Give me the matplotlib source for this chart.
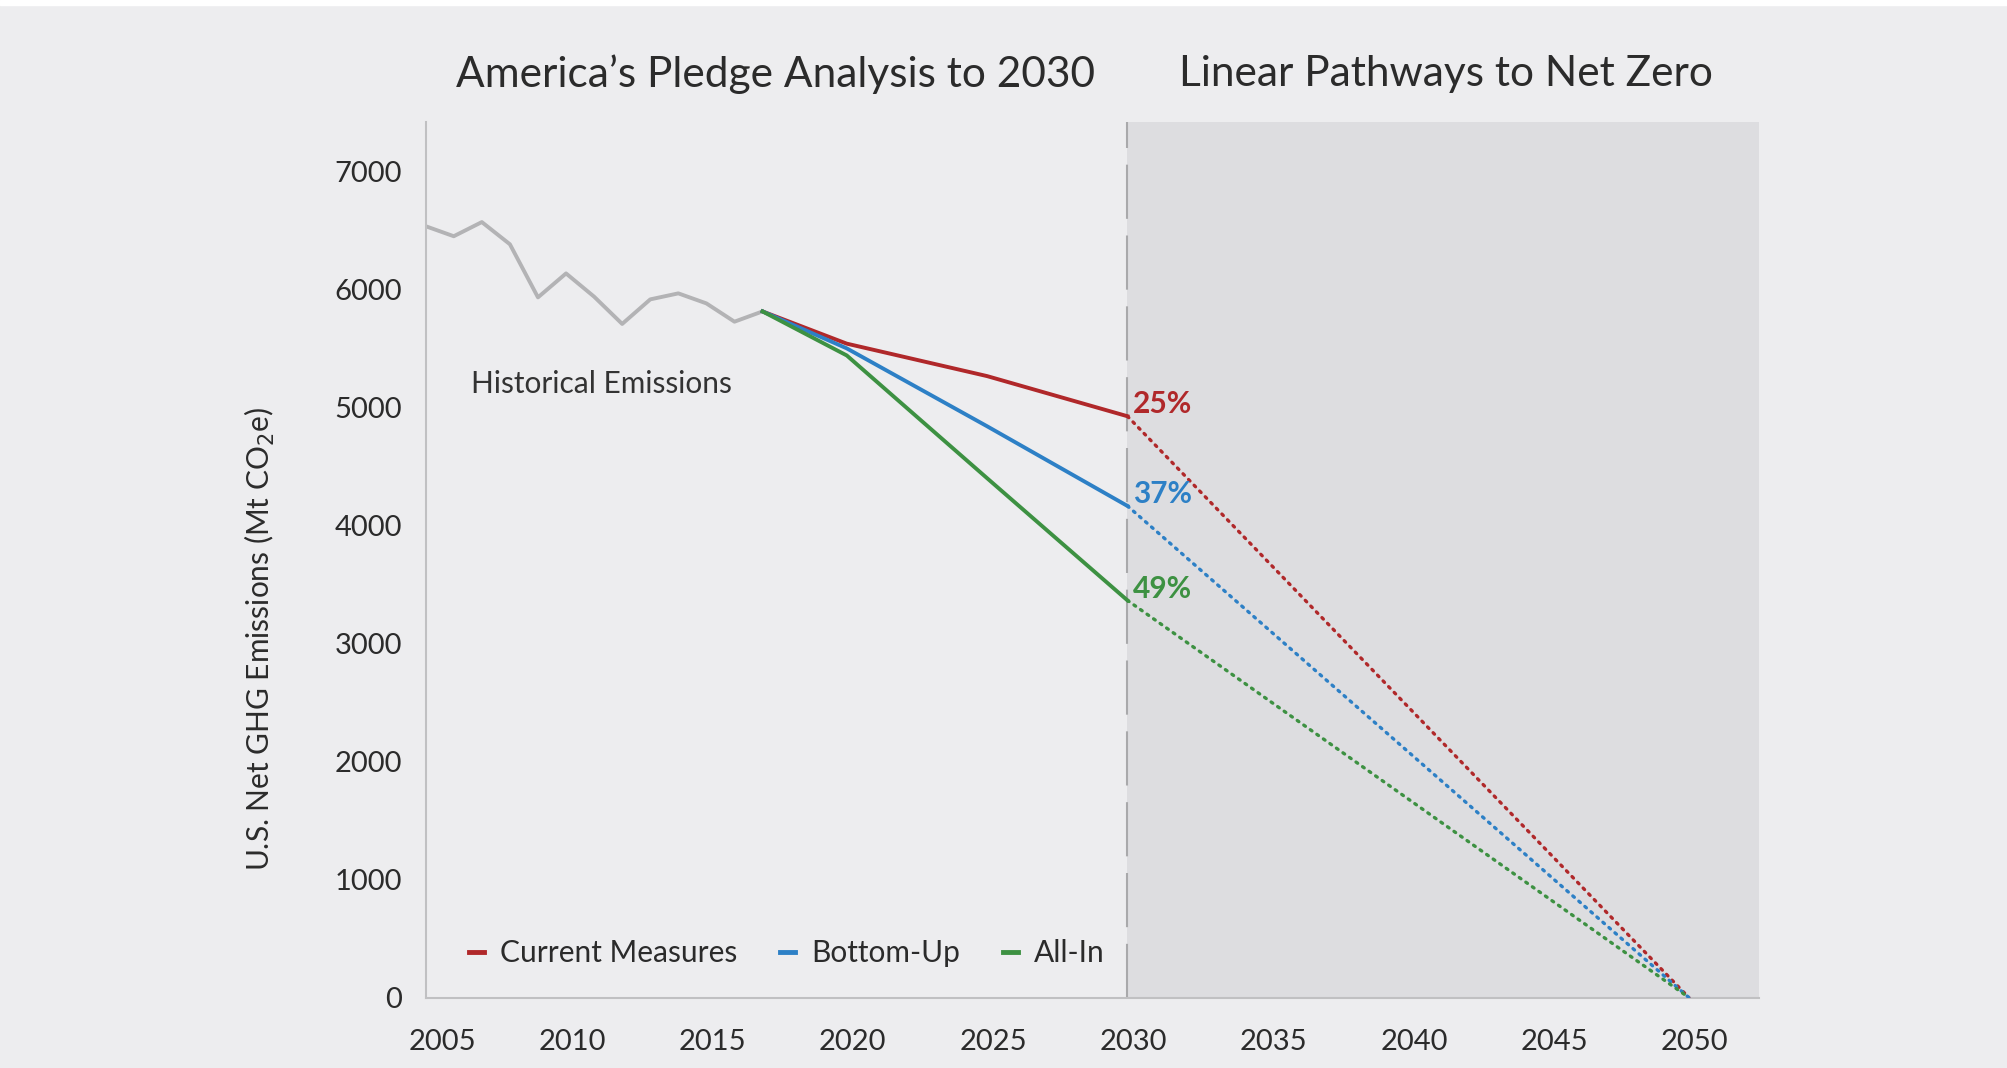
import numpy as np
import matplotlib.pyplot as plt
import matplotlib.transforms as mtrans
from matplotlib.patches import Rectangle

plt.rcParams['font.family'] = ['Lato', 'DejaVu Sans']

# historical net emissions (Mt CO2e)
hist_years = [2005, 2006, 2007, 2008, 2009, 2010, 2011, 2012, 2013, 2014, 2015, 2016, 2017]
hist_vals = [6535, 6450, 6570, 6382, 5932, 6135, 5938, 5707, 5915, 5966, 5881, 5726, 5813]

# scenarios to 2030
proj_years = [2017, 2020, 2025, 2030]
current = [5813, 5540, 5265, 4925]
bottom_up = [5813, 5500, 4840, 4165]
all_in = [5813, 5440, 4400, 3365]

# linear pathways to net zero
path_years = [2030, 2050]
scen_labels = ["Current Measures", "Bottom-Up", "All-In"]
scen_pct = ["25%", "37%", "49%"]
scen_colors = ["#b0282a", "#2d80c6", "#3d9142"]

bg = "#ededef"
fig = plt.figure(figsize=(20.08, 10.68), dpi=100, facecolor=bg)
fig.patches.append(Rectangle((0, 1 - 5 / 1068), 1, 5 / 1068, transform=fig.transFigure,
                             color="white", zorder=0))
ax = fig.add_axes([0.212, 0.066, 0.664, 0.82])
ax.set_facecolor(bg)

ax.axvspan(2030, 2052.5, color="#dddde0", zorder=0, lw=0)
ax.axvline(2030, color="#a9a9ab", lw=1.5, dashes=(26, 8), zorder=1)

ax.plot(hist_years, hist_vals, color="#b3b3b5", lw=2.8, zorder=2)

series = [current, bottom_up, all_in]
for vals, lab, pct, col in zip(series, scen_labels, scen_pct, scen_colors):
    ax.plot(proj_years, vals, color=col, lw=2.8, label=lab, zorder=3)
    ax.plot(path_years, [vals[-1], 0], color=col, lw=2.4, ls=(0, (0.6, 1.8)),
            dash_capstyle="round", zorder=3)
    ax.text(2030.2, vals[-1] + 100, pct, color=col, fontsize=21.5, fontweight="bold",
            ha="left", va="center", zorder=4)

ax.text(2006.6, 5200, "Historical Emissions", fontsize=21.5, color="#333333",
        ha="left", va="center")

ax.set_xlim(2005, 2052.5)
ax.set_ylim(0, 7420)
ax.set_xticks(range(2005, 2051, 5))
ax.set_yticks(range(0, 7001, 1000))
ax.tick_params(length=0, labelsize=21, colors="#2b2b2b")
ax.tick_params(axis="x", pad=23)
ax.tick_params(axis="y", pad=17)
for i, lbl in enumerate(ax.get_xticklabels()):
    dx = 17 if i == 0 else 6
    lbl.set_transform(lbl.get_transform() + mtrans.ScaledTranslation(dx / 100, 0, fig.dpi_scale_trans))
for s in ["top", "right"]:
    ax.spines[s].set_visible(False)
for s in ["left", "bottom"]:
    ax.spines[s].set_color("#c0c0c2")
    ax.spines[s].set_linewidth(1.5)

fig.text(0.1295, 0.402, "U.S. Net GHG Emissions (Mt CO$_2$e)", fontsize=21.5,
         color="#2b2b2b", rotation=90, ha="center", va="center")

leg = ax.legend(loc="lower left", bbox_to_anchor=(0.012, 0.004), ncol=3, frameon=False,
                fontsize=21.5, handlelength=0.5, handletextpad=0.55, columnspacing=1.43)
for t in leg.get_texts():
    t.set_color("#2b2b2b")
for h in leg.legend_handles:
    h.set_linewidth(3.5)

fig.text(0.386, 0.931, "America\u2019s Pledge Analysis to 2030", fontsize=30.5,
         color="#2b2b2b", ha="center", va="center")
fig.text(0.72, 0.931, "Linear Pathways to Net Zero", fontsize=30.5,
         color="#2b2b2b", ha="center", va="center")

fig.savefig("out.png", dpi=100, facecolor=bg)
